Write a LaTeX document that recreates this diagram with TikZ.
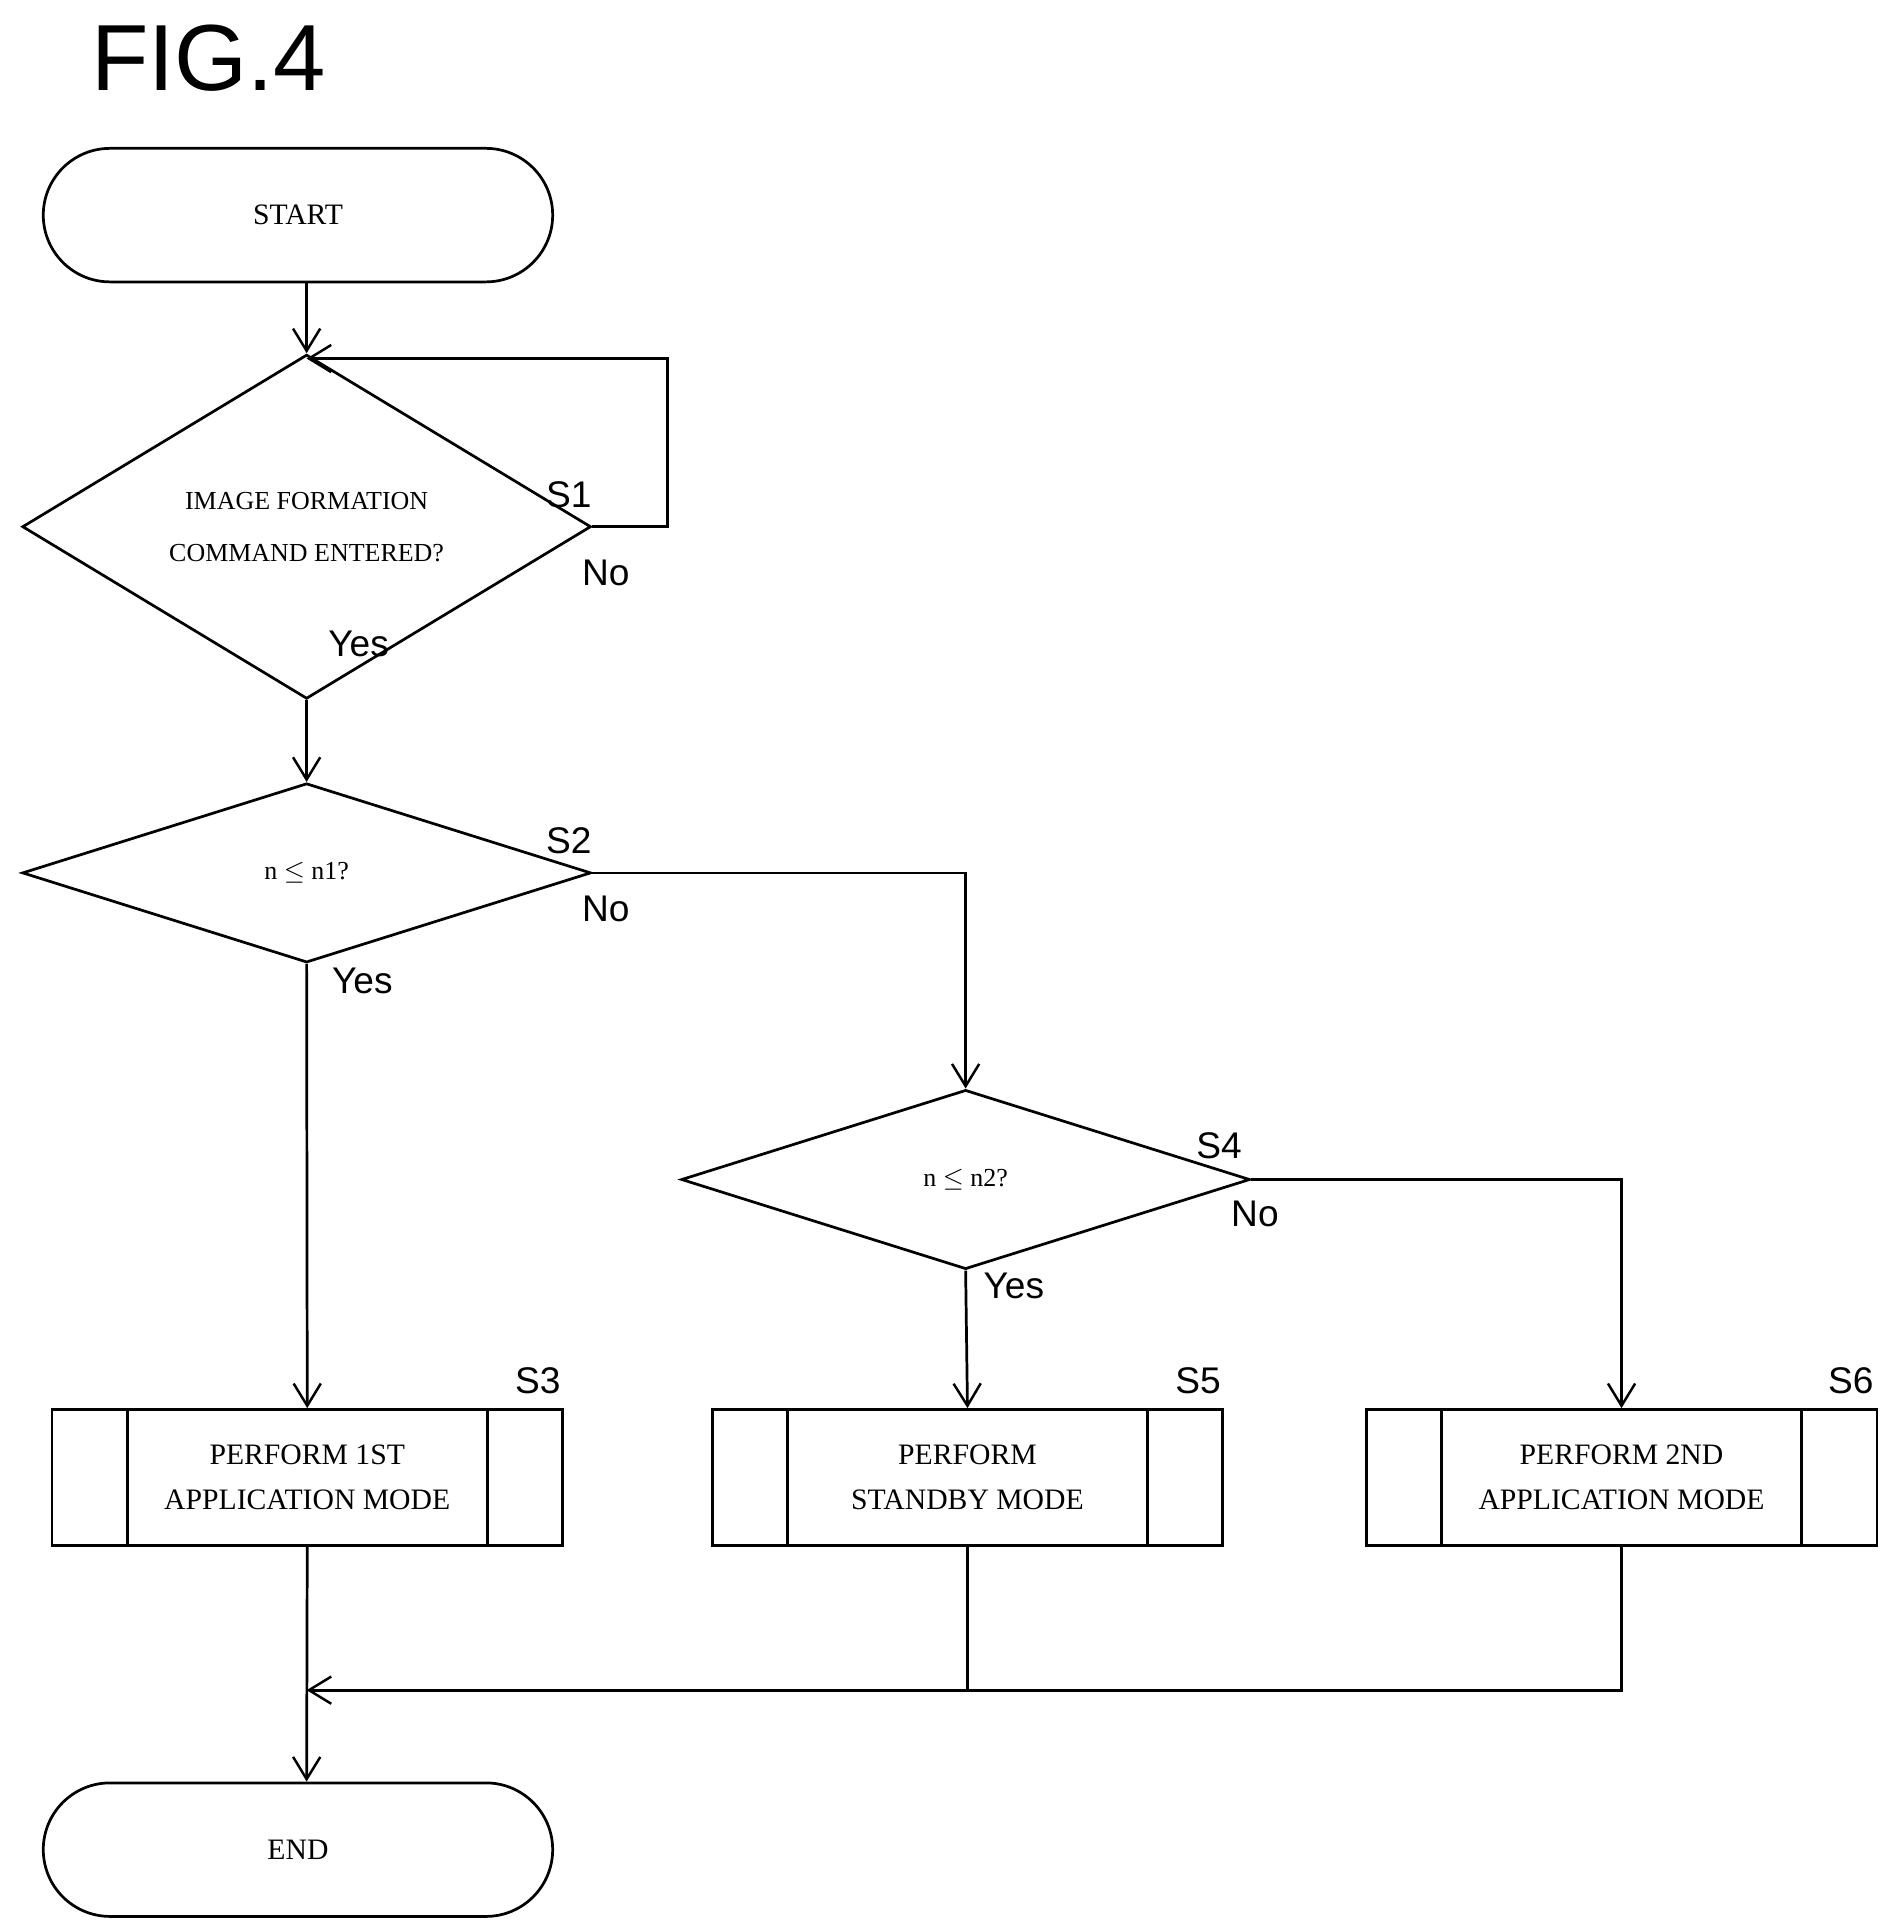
\documentclass[tikz,border=0pt]{standalone}
\usepackage{fontspec}
\setmainfont{Liberation Serif}
\newfontfamily\lsans{Liberation Sans}
\usetikzlibrary{shapes.geometric,arrows.meta,calc}
\begin{document}
\begin{tikzpicture}[x=0.5pt,y=-0.5pt,line width=1.1pt,
  arr/.style={-{Straight Barb[length=9pt,width=11pt,line width=1pt]}},
  term/.style={draw,rounded corners=27pt,minimum width=206pt,minimum height=54pt,font=\fontsize{12}{14}\selectfont},
  dec/.style={draw,diamond,inner sep=0pt,minimum width=230pt,minimum height=72.5pt,align=center,font=\fontsize{10.5}{21}\selectfont},
  proc/.style={draw,minimum width=206.5pt,minimum height=55pt,align=center,font=\fontsize{12}{18}\selectfont},
  lab/.style={font=\lsans\fontsize{15}{17}\selectfont}]
\useasboundingbox (0,0) rectangle (1530,1561);
\node[font=\lsans\fontsize{38}{40}\selectfont,anchor=west] (fig) at (66,47) {FIG.4};
\node[term] (start) at (241,174) {START};
\node[dec] (s1) at (248,426) {IMAGE FORMATION\\COMMAND ENTERED?};
\node[dec] (s2) at (248,706) {n $\leq$ n1?};
\node[dec] (s4) at (781,954) {n $\leq$ n2?};
\node[proc] (s3) at (248.5,1195) {PERFORM 1ST\\APPLICATION MODE};
\node[proc] (s5) at (782.5,1195) {PERFORM\\STANDBY MODE};
\node[proc] (s6) at (1311.5,1195) {PERFORM 2ND\\APPLICATION MODE};
\node[term] (end) at (241,1496) {END};
\foreach \b in {s3,s5,s6}{
  \draw ($(\b.north west)+(31pt,0)$) -- ($(\b.south west)+(31pt,0)$);
  \draw ($(\b.north east)+(-31pt,0)$) -- ($(\b.south east)+(-31pt,0)$);}
\node[lab] (l1) at (460,400) {S1};
\node[lab] (l2) at (460,680) {S2};
\node[lab] (l4) at (986,927) {S4};
\node[lab] (l3) at (435,1117) {S3};
\node[lab] (l5) at (969,1117) {S5};
\node[lab] (l6) at (1497,1117) {S6};
\node[lab] (n1) at (490,463) {No};
\node[lab] (n2) at (490,735) {No};
\node[lab] (n4) at (1015,982) {No};
\node[lab] (y1) at (290,521) {Yes};
\node[lab] (y2) at (293,793) {Yes};
\node[lab] (y4) at (820,1040) {Yes};
\coordinate (a0) at (248,228);
\coordinate (lp) at (248,290);
\coordinate (m) at (248,1367);
\draw[arr] (a0) -- (s1.north);
\draw[arr] (s1.east) -- (540,426) -- (540,290) -- (lp);
\draw[arr] (s1.south) -- (s2.north);
\draw[arr] (s2.south) -- (s3.north);
\draw[arr] (s2.east) -| (s4.north);
\draw[arr] (s4.south) -- (s5.north);
\draw[arr] (s4.east) -| (s6.north);
\draw (s6.south) |- (s5.south |- m);
\draw (s5.south) -- (s5.south |- m);
\draw[arr] (s5.south |- m) -- (m);
\draw[arr] (s3.south) -- (end.north -| m);
\end{tikzpicture}
\end{document}
